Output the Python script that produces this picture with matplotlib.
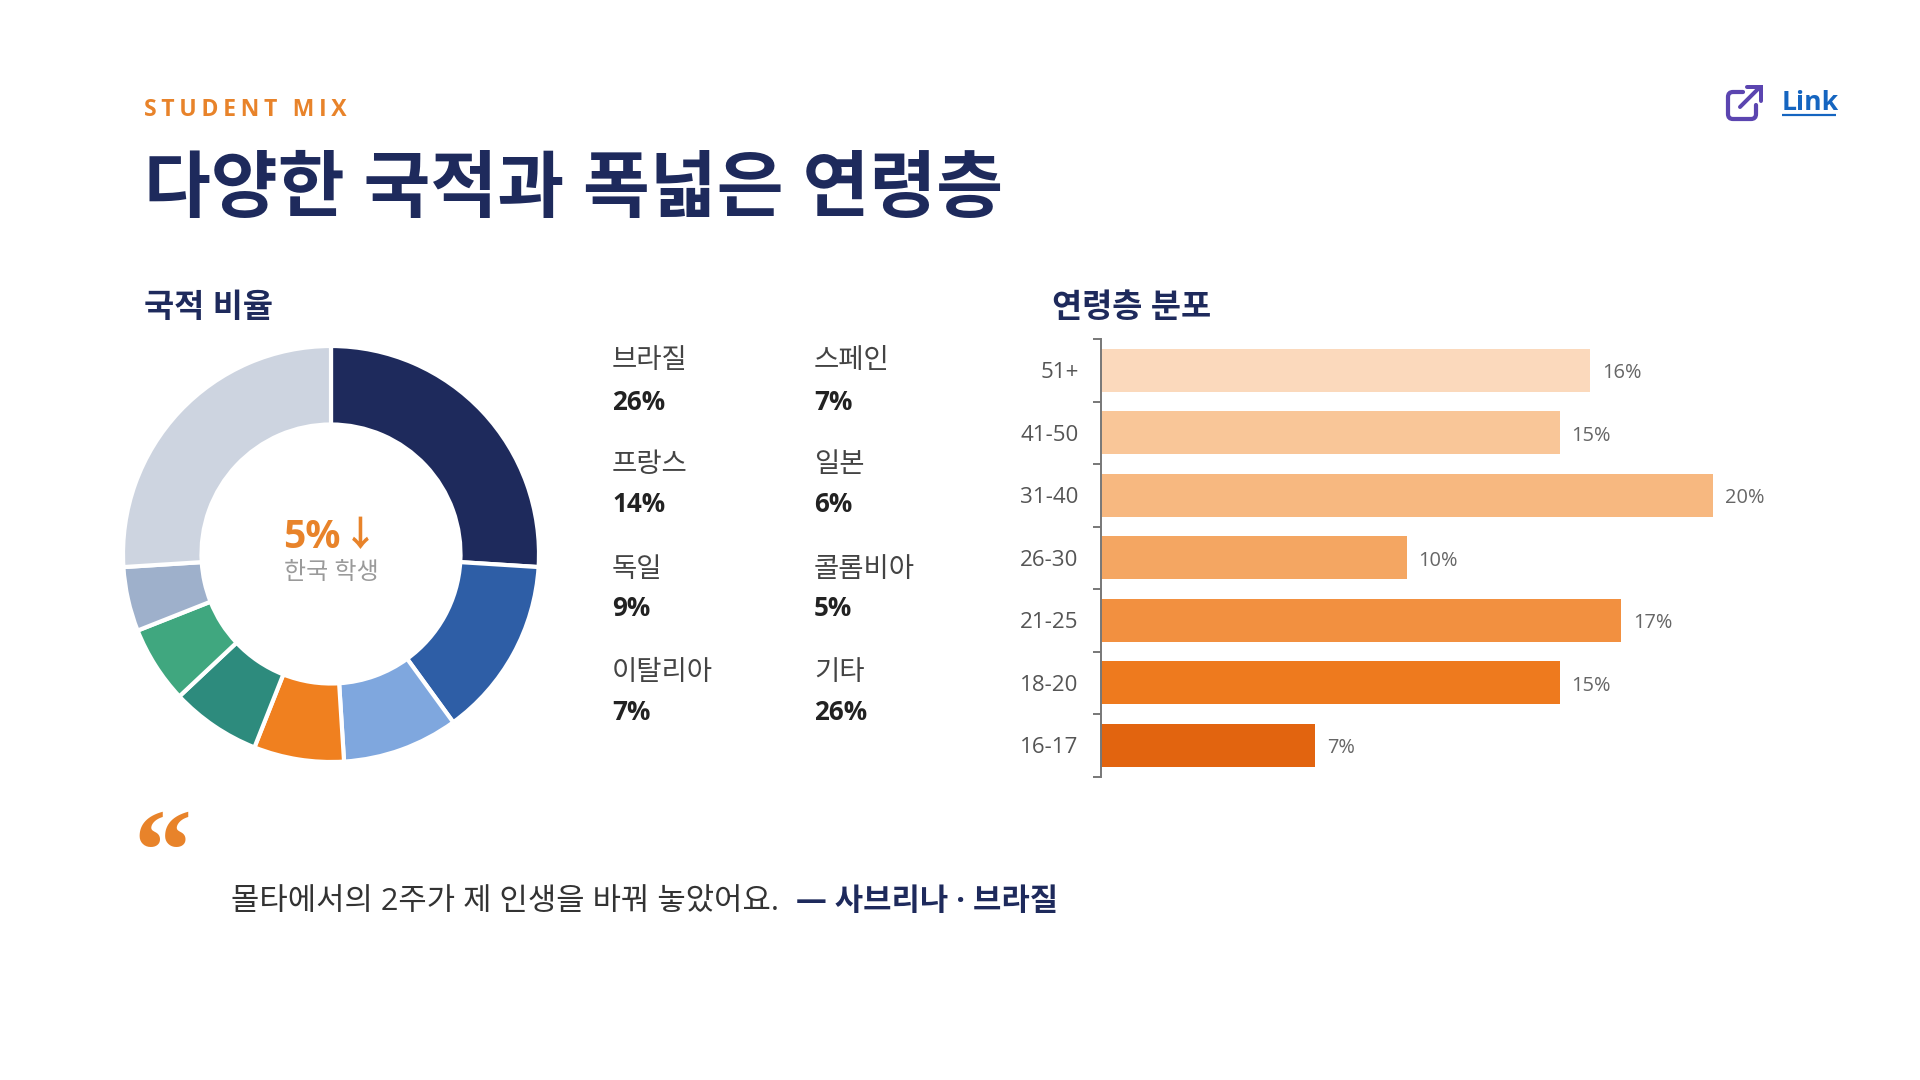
"""Student mix slide: nationality donut, age bars and a quote."""

import matplotlib

matplotlib.use("Agg")
import matplotlib.pyplot as plt
from matplotlib.patches import PathPatch
from matplotlib.path import Path

SANS = ["Open Sans", "Noto Sans CJK KR", "DejaVu Sans"]
plt.rcParams["font.family"] = SANS

NAVY = "#1E2A5C"
ORANGE = "#E8832A"

countries = ["브라질", "프랑스", "독일", "이탈리아", "스페인", "일본", "콜롬비아", "기타"]
country_share = [26, 14, 9, 7, 7, 6, 5, 26]
country_colors = ["#1E2A5C", "#2E5EA6", "#7FA7DE", "#F0801F",
                  "#2D8B7D", "#40A77F", "#9EB0CB", "#CDD4E0"]

age_groups = ["16-17", "18-20", "21-25", "26-30", "31-40", "41-50", "51+"]
age_share = [7, 15, 17, 10, 20, 15, 16]
age_colors = ["#E2640F", "#EE7A1E", "#F29040", "#F4A662",
              "#F7B880", "#F9C698", "#FBD9BC"]

W, H = 1920, 1080


def px_rect(left, top, right, bottom):
    return [left / W, 1 - bottom / H, (right - left) / W, (bottom - top) / H]


def pt(px):
    return px * 0.72


fig = plt.figure(figsize=(19.2, 10.8), dpi=100, facecolor="white")

# pixel-space layer for the slide text
page = fig.add_axes([0, 0, 1, 1])
page.set_xlim(0, W)
page.set_ylim(H, 0)
page.axis("off")


def label(x, y, text, size, color, weight="normal", ha="left", **kw):
    page.text(x, y, text, fontsize=pt(size), color=color, fontweight=weight,
              ha=ha, va="center", **kw)


# ── Header ──────────────────────────────────────────────────────────
label(144, 109.5, "\u2009".join("STUDENT MIX"), 23, ORANGE, "bold")
label(144, 192, "다양한 국적과 폭넓은 연령층", 72.7, NAVY, "bold")
label(144, 308, "국적 비율", 32.8, NAVY, "bold")
label(1052, 308, "연령층 분포", 32.8, NAVY, "bold")

# ── Link icon ───────────────────────────────────────────────────────
LINK_PURPLE = "#5B45B0"
box_verts = [(1743, 92), (1733, 92), (1728, 92), (1728, 97), (1728, 114),
             (1728, 119), (1733, 119), (1751, 119), (1756, 119), (1756, 114),
             (1756, 105)]
box_codes = [Path.MOVETO, Path.LINETO, Path.CURVE3, Path.CURVE3, Path.LINETO,
             Path.CURVE3, Path.CURVE3, Path.LINETO, Path.CURVE3, Path.CURVE3,
             Path.LINETO]
page.add_patch(PathPatch(Path(box_verts, box_codes), fill=False,
                         edgecolor=LINK_PURPLE, lw=pt(4.2), capstyle="round"))
page.plot([1740, 1760], [107, 87], color=LINK_PURPLE, lw=pt(4), solid_capstyle="round")
page.plot([1747, 1761, 1761], [87, 87, 101], color=LINK_PURPLE, lw=pt(4),
          solid_capstyle="round", solid_joinstyle="miter")
label(1782, 103, "Link", 26.6, "#1565C0", "bold")
page.plot([1782, 1836], [115, 115], color="#1565C0", lw=pt(2.2), solid_capstyle="butt")

# ── Donut ───────────────────────────────────────────────────────────
cx, cy, radius = 331, 554, 208
pad = 1.03
donut = fig.add_axes(px_rect(cx - radius * pad, cy - radius * pad,
                             cx + radius * pad, cy + radius * pad))
donut.pie(country_share, colors=country_colors, startangle=90, counterclock=False,
          radius=1.0, wedgeprops=dict(width=1 - 129.5 / 208, edgecolor="white", linewidth=3))
donut.set_xlim(-pad, pad)
donut.set_ylim(-pad, pad)
donut.set_aspect("equal")

page.set_zorder(2)
page.patch.set_alpha(0)
label(283, 538, "5%", 39, ORANGE, "bold")
label(360, 537, "↓", 35, ORANGE, "bold", ha="center")
label(cx, 573, "한국 학생", 24, "#9A9A9A", ha="center")

# ── Nationality legend (two columns of four) ────────────────────────
name_rows = [361, 465, 570, 673]
pct_rows = [402, 505, 609, 713]
for i, (name, share) in enumerate(zip(countries, country_share)):
    col_x = 612 if i < 4 else 814
    label(col_x, name_rows[i % 4], name, 27.5, "#444444")
    label(col_x, pct_rows[i % 4], f"{share}%", 26, "#222222", "bold")

# ── Age bars ────────────────────────────────────────────────────────
bars = fig.add_axes(px_rect(1100.5, 339, 1100.5 + 30.6 * 25, 776.5))
positions = list(range(len(age_groups)))
bars.barh(positions, age_share, height=0.69, color=age_colors)
bars.set_xlim(0, 25)
bars.set_ylim(-0.5, 6.5)
bars.set_xticks([])
bars.set_yticks(positions, age_groups, fontsize=pt(22.4), color="#555555")
bars.set_yticks([p - 0.5 for p in positions] + [6.5], minor=True)
bars.tick_params(axis="y", which="major", length=0, pad=pt(22))
bars.tick_params(axis="y", which="minor", length=pt(8), width=1.4, color="#777777")
for side in ("top", "right", "bottom"):
    bars.spines[side].set_visible(False)
bars.spines["left"].set_color("#777777")
bars.spines["left"].set_linewidth(1.4)
bars.patch.set_alpha(0)
for pos, share in zip(positions, age_share):
    bars.annotate(f"{share}%", (share, pos), xytext=(pt(12), -2.2),
                  textcoords="offset points", va="center",
                  fontsize=pt(20), color="#666666")

# ── Quote ───────────────────────────────────────────────────────────
page.text(133, 861, "\u201c", fontsize=pt(116), color=ORANGE, fontweight="bold",
          family="Liberation Serif", ha="left", va="center")
label(231, 902, "몰타에서의 2주가 제 인생을 바꿔 놓았어요.", 30.8, "#333333")
label(796, 902, "— 사브리나 · 브라질", 30.8, NAVY, "bold")

fig.savefig("out.png", dpi=100, facecolor="white")
